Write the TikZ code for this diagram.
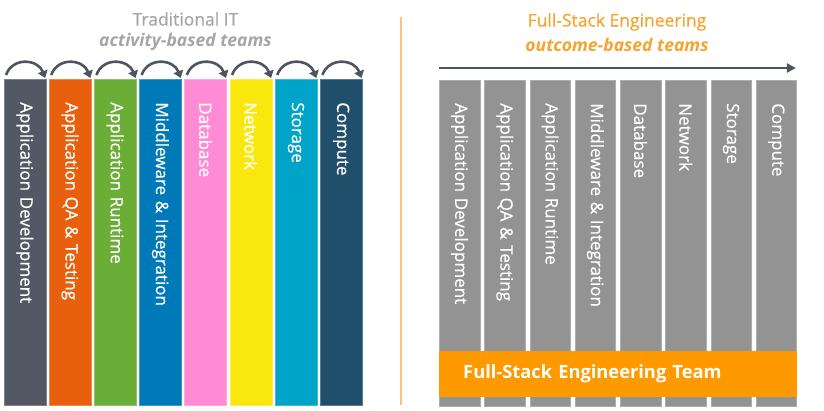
\documentclass[tikz,border=0pt]{standalone}
\usepackage{fontspec}
\setmainfont{Open Sans}[UprightFeatures={FakeBold=0.6}]
\usetikzlibrary{arrows.meta}
\definecolor{ink}{HTML}{4C5560}
\definecolor{titlegray}{HTML}{A5A5A5}
\definecolor{titleorange}{HTML}{F6A330}
\definecolor{divorange}{HTML}{FBC57F}
\definecolor{devgray}{HTML}{525964}
\definecolor{qaorange}{HTML}{E8600D}
\definecolor{runtimegreen}{HTML}{6BAE37}
\definecolor{mwblue}{HTML}{0079B9}
\definecolor{dbpink}{HTML}{FF8BD6}
\definecolor{netyellow}{HTML}{FAE70E}
\definecolor{storecyan}{HTML}{00A4C9}
\definecolor{computeblue}{HTML}{1F4F6B}
\definecolor{stackgray}{HTML}{939393}
\definecolor{teamorange}{HTML}{FF9900}

\begin{document}
\begin{tikzpicture}[x=1pt,y=1pt,
  col/.style={rotate=-90,anchor=south west,minimum width=326pt,minimum height=42pt,
    inner xsep=23pt,inner ysep=0pt,text width=280pt,align=left,text=white,
    fill=#1,draw=#1!75!white,line width=.6pt,font=\fontsize{17}{18}\selectfont},
  stackcol/.style={col=stackgray,minimum height=40.5pt},
  turn/.style={-{Triangle[length=7pt,width=10pt]},line width=2.6pt,draw=ink},
  flow/.style={-{Triangle[length=9pt,width=9pt]},line width=2.8pt,draw=ink},
  title/.style={font=\fontsize{17.5}{20}\selectfont,inner sep=0pt},
  subtitle/.style={font=\fontsize{17.5}{20}\selectfont\bfseries\itshape,inner sep=0pt}]
\useasboundingbox (0,0) rectangle (824,410);

% traditional IT
\node[title,text=titlegray] (tradtitle) at (185.5,391) {Traditional IT};
\node[subtitle,text=titlegray] (tradsub) at (185.5,368) {activity-based teams};
\node[col=devgray] (dev) at (3.5,331) {Application Development};
\node[col=qaorange] (qa) at (48.7,331) {Application QA \& Testing};
\node[col=runtimegreen] (runtime) at (93.9,331) {Application Runtime};
\node[col=mwblue] (mw) at (139.1,331) {Middleware \& Integration};
\node[col=dbpink] (db) at (184.3,331) {Database};
\node[col=netyellow] (net) at (229.5,331) {Network};
\node[col=storecyan] (store) at (274.7,331) {Storage};
\node[col=computeblue] (compute) at (319.9,331) {Compute};
% hand-off arcs (rotated boxes: south west = top left, north west = top right)
\foreach \c in {dev,qa,runtime,mw,db,net,store,compute}
  \draw[turn] ([shift={(2.5,4)}]\c.south west) to[out=70,in=110,looseness=1.3]
    ([shift={(-1,1)}]\c.north west);

\draw[divorange,line width=1.4pt] (401,393) -- (401,5);

% full-stack engineering
\node[title,text=titleorange] (fstitle) at (617,388) {Full-Stack Engineering};
\node[subtitle,text=titleorange] (fssub) at (617,365) {outcome-based teams};
\node[stackcol] (sdev) at (439,330) {Application Development};
\node[stackcol] (sqa) at (484.3,330) {Application QA \& Testing};
\node[stackcol] (sruntime) at (529.5,330) {Application Runtime};
\node[stackcol] (smw) at (574.8,330) {Middleware \& Integration};
\node[stackcol] (sdb) at (620,330) {Database};
\node[stackcol] (snet) at (665.3,330) {Network};
\node[stackcol] (sstore) at (710.5,330) {Storage};
\node[stackcol] (scompute) at (755.8,330) {Compute};
\draw[flow] ([yshift=12pt]sdev.south west) -- ([shift={(-1,12)}]scompute.north west);
\node[fill=teamorange,anchor=north west,minimum width=357.3pt,minimum height=46pt,
  inner xsep=24pt,text width=309.3pt,align=left,text=white,
  font=\fontsize{18.3}{20}\selectfont\bfseries] (team) at (439,59) {Full-Stack Engineering Team};
\end{tikzpicture}
\end{document}
